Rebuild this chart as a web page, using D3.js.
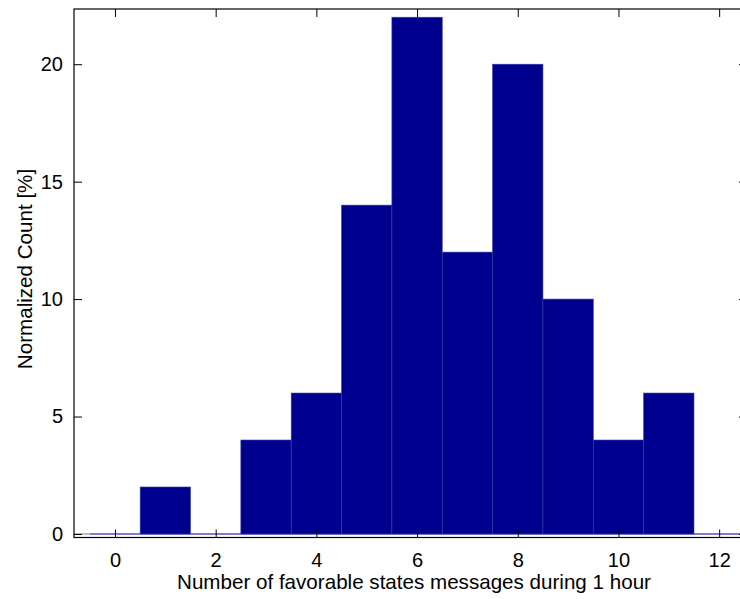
<!DOCTYPE html>
<html>
<head>
<meta charset="utf-8">
<script src="https://cdn.jsdelivr.net/npm/d3@7"></script>
<style>
  html, body { margin: 0; padding: 0; background: #ffffff; }
  svg { display: block; }
  text { font-family: Arial, "Liberation Sans", Helvetica, sans-serif; fill: #000; }
</style>
</head>
<body>
<script>
// ---- data ----
const binCenters = [0, 1, 2, 3, 4, 5, 6, 7, 8, 9, 10, 11, 12];
const counts     = [0, 2, 0, 4, 6, 14, 22, 12, 20, 10, 4, 6, 0];
const xTicks = [0, 2, 4, 6, 8, 10, 12];
const yTicks = [0, 5, 10, 15, 20];
const xLabel = "Number of favorable states messages during 1 hour";
const yLabel = "Normalized Count [%]";

const W = 740, H = 599;
const L = 74, R = 747, T = 9, B = 537.5;
const FS = "20px";
const FSL = "20.6px";

const svg = d3.select("body").append("svg").attr("width", W).attr("height", H);

const x = d3.scaleLinear().domain([-0.814, 12.553]).range([L, R]);
const y = d3.scaleLinear().domain([-0.15, 22.35]).range([B, T]);

const barColor = "#00008F";

// baseline of the histogram (zero-height bins)
svg.append("line")
  .attr("x1", L).attr("x2", x(-0.5))
  .attr("y1", y(0)).attr("y2", y(0))
  .attr("stroke", "#808080").attr("stroke-width", 1);
svg.append("line")
  .attr("x1", x(-0.5)).attr("x2", x(12.5))
  .attr("y1", y(0)).attr("y2", y(0))
  .attr("stroke", barColor).attr("stroke-width", 1.2);

// bars
svg.append("g").selectAll("rect")
  .data(binCenters.map((c, i) => ({c, v: counts[i]})).filter(d => d.v > 0))
  .join("rect")
  .attr("x", d => x(d.c - 0.5))
  .attr("width", d => x(d.c + 0.5) - x(d.c - 0.5))
  .attr("y", d => y(d.v))
  .attr("height", d => y(0) - y(d.v))
  .attr("fill", barColor)
  .attr("stroke", "#3a3aa8")
  .attr("stroke-width", 0.6);

// axes box
const tickLen = 8;
const axG = svg.append("g");

const gBottom = axG.append("g").attr("transform", `translate(0,${B})`)
  .call(d3.axisBottom(x).tickValues(xTicks).tickSize(-tickLen).tickPadding(15).tickFormat(d3.format("d")));
const gTop = axG.append("g").attr("transform", `translate(0,${T})`)
  .call(d3.axisTop(x).tickValues(xTicks).tickSize(-tickLen).tickFormat(""));
const gLeft = axG.append("g").attr("transform", `translate(${L},0)`)
  .call(d3.axisLeft(y).tickValues(yTicks).tickSize(-tickLen).tickPadding(11).tickFormat(d3.format("d")));
const gRight = axG.append("g").attr("transform", `translate(${R},0)`)
  .call(d3.axisRight(y).tickValues(yTicks).tickSize(-tickLen).tickFormat(""));

[gBottom, gTop, gLeft, gRight].forEach(g => {
  g.select(".domain").remove();
  g.selectAll(".tick line").attr("stroke", "#000").attr("stroke-width", 1);
  g.selectAll(".tick text").style("font-size", FS).attr("fill", "#000");
});

axG.append("rect")
  .attr("x", L).attr("y", T).attr("width", R - L).attr("height", B - T)
  .attr("fill", "none").attr("stroke", "#000").attr("stroke-width", 1.2);

// labels
svg.append("text")
  .attr("x", 414).attr("y", 589)
  .attr("text-anchor", "middle")
  .style("font-size", FSL)
  .text(xLabel);

svg.append("text")
  .attr("transform", `translate(32,269) rotate(-90)`)
  .attr("text-anchor", "middle")
  .style("font-size", FSL)
  .text(yLabel);
</script>
</body>
</html>
